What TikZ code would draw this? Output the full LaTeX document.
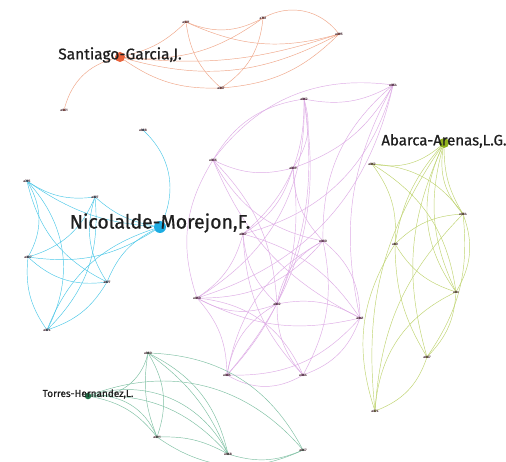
\documentclass[tikz,border=0pt]{standalone}
\usepackage{fontspec}
\setmainfont{Fira Sans}
\newfontfamily\hubfont{Fira Sans}[FakeBold=0.7]
\usetikzlibrary{backgrounds}
\definecolor{orEdge}{RGB}{240,165,135}
\definecolor{orHub}{RGB}{232,98,58}
\definecolor{puEdge}{RGB}{222,172,230}
\definecolor{puDot}{RGB}{120,50,120}
\definecolor{blEdge}{RGB}{75,200,232}
\definecolor{blHub}{RGB}{28,172,226}
\definecolor{grEdge}{RGB}{125,192,162}
\definecolor{grHub}{RGB}{32,112,72}
\definecolor{yeEdge}{RGB}{192,212,112}
\definecolor{yeHub}{RGB}{145,178,30}
\definecolor{tagText}{RGB}{70,40,50}
\tikzset{
  tagtext/.style={font=\fontsize{3.4}{4}\selectfont\bfseries, text=tagText, inner sep=0pt},
  paper/.style={circle, inner sep=0pt, minimum size=2.4pt, fill=#1},
  hub/.style={circle, inner sep=0pt, fill=#1},
  hubtext/.style={font=\hubfont\fontsize{#1}{#1}\selectfont, text=black!88, inner sep=0pt, yshift=2pt},
  link/.style={line width=0.45pt, draw=#1},
}
\begin{document}
\begin{tikzpicture}[x=1pt, y=-1pt]
\useasboundingbox (0,0) rectangle (506,462);
\begin{scope}[on background layer]
  \fill[white] (0,0) rectangle (506,462);
\end{scope}

% ---- Santiago-Garcia cluster ----
\node[hub=orHub, minimum size=10pt, label={[hubtext=15.5]center:Santiago-Garcia,J.}] (SG) at (120,57) {};
\node[paper=orHub!70!black, label={[tagtext]center:a021}] (o1) at (186,22) {};
\node[paper=orHub!70!black, label={[tagtext]center:a751}] (o2) at (263,18) {};
\node[paper=orHub!70!black, label={[tagtext]center:a895}] (o3) at (339,34) {};
\node[paper=orHub!70!black, label={[tagtext]center:a857}] (o4) at (221,88) {};
\node[paper=orHub!70!black, label={[tagtext]center:a061}] (o5) at (64,110) {};

% ---- Purple cluster ----
\node[paper=puDot, label={[tagtext]center:a862}] (p1) at (304,99) {};
\node[paper=puDot, label={[tagtext]center:a854}] (p2) at (393,85) {};
\node[paper=puDot, label={[tagtext]center:a836}] (p3) at (213,160) {};
\node[paper=puDot, label={[tagtext]center:a839}] (p4) at (293,168) {};
\node[paper=puDot, label={[tagtext]center:a867}] (p5) at (243,234) {};
\node[paper=puDot, label={[tagtext]center:a830}] (p6) at (323,241) {};
\node[paper=puDot, label={[tagtext]center:a850}] (p7) at (197,298) {};
\node[paper=puDot, label={[tagtext]center:a832}] (p8) at (277,304) {};
\node[paper=puDot, label={[tagtext]center:a841}] (p9) at (360,318) {};
\node[paper=puDot, label={[tagtext]center:a885}] (p10) at (227,375) {};
\node[paper=puDot, label={[tagtext]center:a864}] (p11) at (303,375) {};

% ---- Nicolalde-Morejon cluster ----
\node[hub=blHub, minimum size=12pt, label={[hubtext=19.5, yshift=2pt]center:Nicolalde-Morejon,F.}] (NM) at (160,227) {};
\node[paper=blHub!50!black, label={[tagtext]center:a888}] (b1) at (143,130) {};
\node[paper=blHub!50!black, label={[tagtext]center:a795}] (b2) at (27,181) {};
\node[paper=blHub!50!black, label={[tagtext]center:a827}] (b3) at (95,197) {};
\node[paper=blHub!50!black, label={[tagtext]center:a837}] (b4) at (28,257) {};
\node[paper=blHub!50!black, label={[tagtext]center:a877}] (b5) at (107,282) {};
\node[paper=blHub!50!black, label={[tagtext]center:a874}] (b6) at (47,330) {};

% ---- Torres-Hernandez cluster ----
\node[hub=grHub, minimum size=6.5pt, label={[hubtext=10]center:Torres-Hernandez,L.}] (TH) at (88,396) {};
\node[paper=grHub, label={[tagtext]center:a880}] (g1) at (148,353) {};
\node[paper=grHub, label={[tagtext]center:a891}] (g2) at (157,437) {};
\node[paper=grHub, label={[tagtext]center:a868}] (g3) at (228,454) {};
\node[paper=grHub, label={[tagtext]center:a867}] (g4) at (303,450) {};

% ---- Abarca-Arenas cluster ----
\node[hub=yeHub, minimum size=10pt, label={[hubtext=15]center:Abarca-Arenas,L.G.}] (AA) at (444,143) {};
\node[paper=yeHub!70!black, label={[tagtext]center:a862}] (y1) at (372,164) {};
\node[paper=yeHub!70!black, label={[tagtext]center:a884}] (y2) at (463,214) {};
\node[paper=yeHub!70!black, label={[tagtext]center:a80}] (y3) at (395,244) {};
\node[paper=yeHub!70!black, label={[tagtext]center:a8x}] (y4) at (456,292) {};
\node[paper=yeHub!70!black, label={[tagtext]center:a887}] (y5) at (427,357) {};
\node[paper=yeHub!70!black, label={[tagtext]center:a874}] (y6) at (375,411) {};

\begin{scope}[on background layer]
  % co-authorship links, bent arcs
  \foreach \a/\b/\c in {o5/SG/30, SG/o1/-15, SG/o2/-20, SG/o3/-12, SG/o3/-22, SG/o4/-18,
      o1/o2/-25, o1/o3/-20, o1/o4/-20, o2/o3/40, o2/o4/25, o4/o3/-20}
    \draw[link=orEdge] (\a) to[bend left=\c] (\b);

  \foreach \a/\b/\c in {p1/p2/-20, p3/p1/25, p1/p4/25, p5/p1/-25, p7/p1/-30, p10/p1/-25, p1/p8/15,
      p3/p2/30, p4/p2/-20, p5/p2/-30, p6/p2/25, p7/p2/-30, p9/p2/20,
      p3/p4/-20, p3/p6/-25, p3/p7/-25, p3/p8/20, p3/p9/-20,
      p4/p5/20, p4/p6/-20, p10/p4/-25,
      p5/p7/20, p5/p8/-20, p5/p9/20, p5/p11/-20,
      p7/p6/-25, p8/p6/25, p6/p9/25, p11/p6/-20, p10/p6/25,
      p7/p8/-25, p7/p9/-20, p7/p10/20, p7/p11/30,
      p10/p8/25, p8/p11/-20, p8/p9/20,
      p10/p9/-25, p11/p9/-25, p10/p11/-30}
    \draw[link=puEdge] (\a) to[bend left=\c] (\b);

  \foreach \a/\b/\c in {b1/NM/35, b2/NM/-15, b3/NM/-15, b4/NM/-20, b5/NM/20, b6/NM/25,
      b2/b3/-20, b2/b4/30, b2/b5/-25, b2/b6/35,
      b3/b4/25, b3/b5/-25, b3/b6/25, b4/b5/-25, b4/b6/-20, b6/b5/-20}
    \draw[link=blEdge] (\a) to[bend left=\c] (\b);

  \foreach \a/\b/\c in {TH/g1/-40, TH/g2/20, TH/g2/35, TH/g3/25, TH/g3/40, TH/g4/35,
      g1/g2/25, g1/g2/-15, g1/g3/15, g1/g3/25, g1/g4/30, g2/g3/15, g2/g4/-30, g3/g4/-20}
    \draw[link=grEdge] (\a) to[bend left=\c] (\b);

  \foreach \a/\b/\c in {AA/y1/25, AA/y2/-15, AA/y2/-25, AA/y3/-15, AA/y4/-20, AA/y4/-30, AA/y5/-20, AA/y6/-20,
      y1/y2/25, y1/y3/20, y1/y4/25, y3/y2/20, y2/y4/25, y2/y5/20, y2/y6/-20,
      y3/y4/-20, y3/y5/-15, y3/y6/-25, y4/y5/20, y4/y6/-30, y5/y6/25}
    \draw[link=yeEdge] (\a) to[bend left=\c] (\b);
\end{scope}
\end{tikzpicture}
\end{document}
